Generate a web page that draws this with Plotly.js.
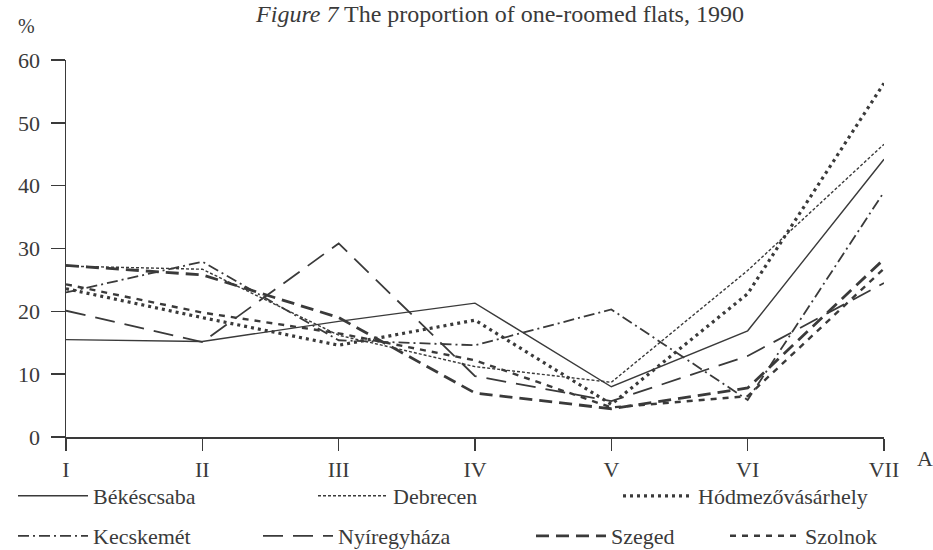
<!DOCTYPE html>
<html>
<head>
<meta charset="utf-8">
<script src="https://cdn.plot.ly/plotly-3.0.1.min.js"></script>
<style>html,body{margin:0;padding:0;background:#fff;}#chart{width:933px;height:550px;}</style>
</head>
<body>
<div id="chart"></div>
<script>
const categories = ["I", "II", "III", "IV", "V", "VI", "VII"];
const cityNames = ["Békéscsaba", "Debrecen", "Hódmezővásárhely", "Kecskemét", "Nyíregyháza", "Szeged", "Szolnok"];
const bekescsaba = [15.5, 15.2, 18.4, 21.3, 8.0, 16.9, 44.2];
const debrecen = [27.2, 26.7, 16.2, 11.2, 8.7, 26.5, 46.6];
const hodmezovasarhely = [23.6, 19.0, 14.6, 18.6, 5.2, 22.8, 56.3];
const kecskemet = [23.0, 27.9, 15.4, 14.6, 20.3, 5.9, 39.0];
const nyiregyhaza = [20.1, 15.1, 30.8, 9.7, 5.7, 12.9, 24.5];
const szeged = [27.3, 25.8, 19.0, 7.0, 4.5, 7.8, 28.3];
const szolnok = [24.3, 19.8, 16.5, 12.2, 4.7, 6.5, 26.8];
const yTicks = [0, 10, 20, 30, 40, 50, 60];

const seriesValues = [bekescsaba, debrecen, hodmezovasarhely, kecskemet, nyiregyhaza, szeged, szolnok];
const ink = "#3a3a3a";
const styles = [
  {dash: "solid", width: 1.4},
  {dash: "3px,2px", width: 1.4},
  {dash: "3px,4px", width: 3.2},
  {dash: "11px,4px,2px,4px", width: 1.8},
  {dash: "20px,10px", width: 1.8},
  {dash: "13px,7px", width: 2.8},
  {dash: "6px,6px", width: 2.4}
];
// legend placement (container px): start x, centre y
const legendPos = [[13,496],[313,496],[618,496],[13,536],[258,536],[531,536],[725,536]];

const xIdx = categories.map((c, i) => i);
const traces = seriesValues.map((vals, i) => ({
  type: "scatter", mode: "lines", x: xIdx, y: vals, name: cityNames[i],
  line: {color: ink, dash: styles[i].dash, width: styles[i].width},
  legend: i === 0 ? "legend" : "legend" + (i + 1),
  hoverinfo: "skip"
}));

const serif = "Liberation Serif";
const layout = {
  width: 933, height: 550,
  font: {family: serif, size: 22, color: ink},
  paper_bgcolor: "#ffffff", plot_bgcolor: "#ffffff",
  margin: {l: 66, r: 49, t: 60, b: 113},
  showlegend: true,
  title: {
    text: "<i>Figure 7</i> The proportion of one-roomed flats, 1990",
    font: {family: serif, size: 24, color: ink},
    x: 500 / 933, xanchor: "center", xref: "container",
    y: 1 - 5 / 550, yanchor: "top", yref: "container"
  },
  xaxis: {
    range: [0, 6], tickvals: xIdx, ticktext: categories,
    showline: true, linecolor: ink, linewidth: 1.5,
    ticks: "outside", ticklen: 12, tickwidth: 1.5, tickcolor: ink,
    showgrid: false, zeroline: false,
    tickfont: {family: serif, size: 22, color: ink}
  },
  yaxis: {
    range: [0, 60], tickvals: yTicks,
    showline: true, linecolor: ink, linewidth: 1.5,
    ticks: "outside", ticklen: 14, tickwidth: 1.5, tickcolor: ink,
    showgrid: false, zeroline: false, ticklabelstandoff: 6,
    tickfont: {family: serif, size: 22, color: ink}
  },
  annotations: [
    {text: "%", xref: "paper", yref: "paper", x: (26 - 66) / 818, y: (437 - 26) / 377,
     showarrow: false, font: {family: serif, size: 20, color: ink}, xanchor: "center", yanchor: "middle"},
    {text: "A", xref: "paper", yref: "paper", x: (925 - 66) / 818, y: (437 - 458) / 377,
     showarrow: false, font: {family: serif, size: 22, color: ink}, xanchor: "center", yanchor: "middle"}
  ]
};
legendPos.forEach((p, i) => {
  const key = i === 0 ? "legend" : "legend" + (i + 1);
  layout[key] = {
    xref: "container", yref: "container",
    x: p[0] / 933, y: 1 - p[1] / 550, xanchor: "left", yanchor: "middle",
    orientation: "h", bgcolor: "rgba(0,0,0,0)", borderwidth: 0,
    itemwidth: 70,
    font: {family: serif, size: 22, color: ink}
  };
});

Plotly.newPlot("chart", traces, layout, {staticPlot: true, displayModeBar: false});
</script>
</body>
</html>
